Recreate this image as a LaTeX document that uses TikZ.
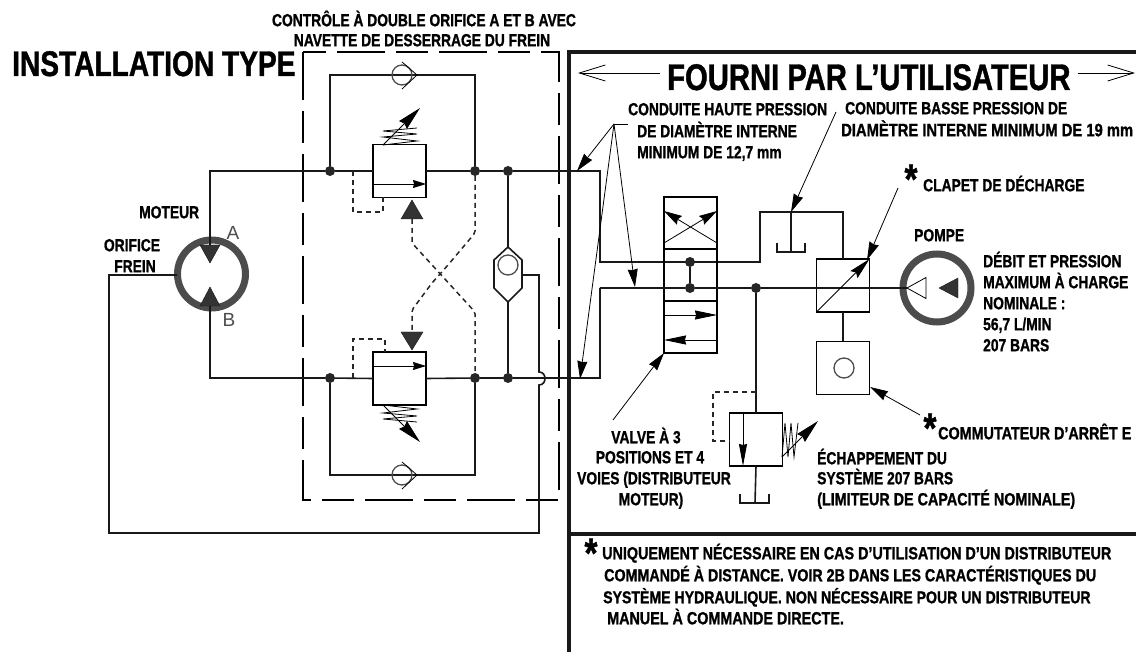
\documentclass[tikz,border=0pt]{standalone}
\usepackage{fontspec}
\usetikzlibrary{arrows.meta}
\newfontfamily\hdfont[FakeStretch=0.79,FakeBold=1.1]{Liberation Sans Bold}
\newfontfamily\hdwide[FakeStretch=0.82,FakeBold=1.1]{Liberation Sans Bold}
\newfontfamily\thinfont{Liberation Sans}
\definecolor{ringgray}{gray}{0.3}

\begin{document}
\begin{tikzpicture}[
    x=1pt,y=-1pt,
    pipe/.style={line width=1.6pt,black!90},
    pilot/.style={line width=1.5pt,black!85,dash pattern=on 5pt off 4pt},
    frame/.style={line width=1.5pt,dash pattern=on 48pt off 11pt on 32pt off 11pt},
    wall/.style={line width=3.4pt,black!90},
    vbox/.style={draw,line width=1.5pt,minimum width=53pt,minimum height=53pt,inner sep=0pt,outer sep=0pt},
    ring/.style={draw=ringgray,line width=7pt,circle,minimum size=68pt,inner sep=0pt,outer sep=0pt},
    dot/.style={circle,fill=black!85,minimum size=10pt,inner sep=0pt,outer sep=0pt},
    tri/.style={fill=black!80,draw=black!90,line width=0.4pt},
    thinline/.style={line width=0.8pt},
    flow/.style={line width=0.8pt,-{Stealth[length=13pt,width=8pt,inset=1pt]}},
    leader/.style={line width=0.8pt,-{Stealth[length=18pt,width=10pt,inset=1pt]}},
    springtip/.style={line width=0.8pt,-{Stealth[length=24pt,width=11pt,inset=2pt]}},
    roundv/.style={circle,draw=black!70,line width=1.3pt,minimum size=20pt,inner sep=0pt,outer sep=0pt},
    lbl/.style={font=\hdfont\fontsize{17.5}{17.5}\selectfont,inner sep=0pt,text height=12.5pt,text depth=0pt},
    wlbl/.style={font=\hdwide\fontsize{17.5}{17.5}\selectfont,inner sep=0pt,text height=12.5pt,text depth=0pt},
    bigl/.style={font=\hdfont\fontsize{37}{37}\selectfont,inner sep=0pt,text height=26pt,text depth=0pt},
    thinl/.style={font=\thinfont\fontsize{19}{19}\selectfont,text=black!70,inner sep=0pt},
    star/.style={font=\hdfont\fontsize{42}{42}\selectfont,inner sep=0pt},
  ]
  \useasboundingbox (0,0) rectangle (1136,652);

  % frames
  \draw[frame] (303,52) rectangle (559,500);
  \draw[wall] (1136,52) -- (569,52) -- (569,652);
  \draw[wall] (569,534) -- (1136,534);

  % motor
  \node[ring] (motor) at (211.5,274) {};
  \coordinate (portA) at (210,245);
  \coordinate (portB) at (210,306);
  \coordinate (brake) at (177,275);
  \draw[tri] (200,245) -- (220,245) -- (210,263) -- cycle;
  \draw[tri] (200,306) -- (220,306) -- (210,287) -- cycle;

  % upper line
  \node[dot] (dotA1) at (330,171) {};
  \node[dot] (dotA2) at (475,171) {};
  \node[dot] (dotA3) at (508,171) {};
  \node[vbox] (valveA) at (399.5,171) {};
  \coordinate (hiA) at (600,171);
  \coordinate (hiB) at (600,262);
  \coordinate (lowA) at (760,262);
  \coordinate (lowB) at (760,212);
  \coordinate (lowC) at (843,212);
  \node[vbox] (relief) at (843,285.5) {};
  \draw[pipe] (portA) |- (dotA1) -- (valveA.west);
  \draw[pipe] (valveA.east) -- (dotA2) -- (dotA3) -- (hiA) -- (hiB) -- (lowA) -- (lowB) -- (lowC) -- (relief.north);

  % lower line
  \node[dot] (dotB1) at (330,378) {};
  \node[dot] (dotB2) at (475,378) {};
  \node[dot] (dotB3) at (508,378) {};
  \node[vbox] (valveB) at (399.5,378.5) {};
  \coordinate (hiC) at (600,378);
  \coordinate (hiD) at (600,288);
  \draw[pipe] (portB) |- (dotB1) -- (valveB.west);
  \draw[pipe] (valveB.east) -- (dotB2) -- (dotB3) -- (hiC) -- (hiD);

  % check valves
  \coordinate (chkA) at (402,75);
  \coordinate (chkB) at (402,475);
  \draw[pipe] (dotA1) |- (chkA) -| (dotA2);
  \draw[pipe] (dotB1) |- (chkB) -| (dotB2);
  \node[roundv] (ballA) at (chkA) {};
  \node[roundv] (ballB) at (chkB) {};
  \draw[thinline] (402,62) -- (417,75) -- (402,89);
  \draw[thinline] (402,462) -- (417,475) -- (402,489);

  % arrows in the valves
  \draw[flow] (valveA.west |- 0,184) -- (valveA.east |- 0,184);
  \draw[flow] (valveB.west |- 0,366) -- (valveB.east |- 0,366);

  % springs
  \draw[thinline] (383,145) -- (417,141) -- (383,137) -- (417,134) -- (383,131) -- (417,128);
  \draw[springtip] (383,145) -- (420,108);
  \draw[thinline] (383,405) -- (417,409) -- (383,413) -- (417,416) -- (383,419) -- (417,422);
  \draw[springtip] (383,405) -- (420,442);

  % drains
  \draw[pilot] (353,171) -- (353,212) -- (383,212) -- (383,197);
  \draw[pilot] (353,378) -- (353,339) -- (385,339) -- (385,352);

  % pilots
  \coordinate (pilotA) at (412,219);
  \coordinate (pilotB) at (412,332);
  \draw[tri] (401,219) -- (423,219) -- (412,200) -- cycle;
  \draw[tri] (401,332) -- (423,332) -- (412,350) -- cycle;
  \draw[pilot,rounded corners=2pt] (pilotA) -- (412,243) -- (475,312) -- (dotB2);
  \draw[pilot,rounded corners=2pt] (dotA2) -- (475,233) -- (448,265) -- (432,283) -- (412,310) -- (pilotB);

  % shuttle
  \node[roundv] (ballS) at (508,265) {};
  \coordinate (shA) at (508,247);
  \coordinate (shB) at (508,302);
  \coordinate (shR) at (522,275);
  \draw[pipe] (shA) -- (494,260) -- (494,288) -- (shB) -- (522,288) -- (522,260) -- cycle;
  \draw[pipe] (dotA3) -- (shA);
  \draw[pipe] (shB) -- (dotB3);

  % brake line
  \coordinate (brkA) at (539,275);
  \coordinate (brkB) at (539,372);
  \coordinate (brkC) at (539,385);
  \coordinate (brkD) at (539,533);
  \coordinate (brkE) at (109,533);
  \coordinate (brkF) at (109,275);
  \draw[pipe] (shR) -- (brkA) -- (brkB) .. controls (547,372) and (547,385) .. (brkC) -- (brkD) -- (brkE) -- (brkF) -- (brake);

  % directional valve
  \node[vbox,minimum height=52pt] (dirA) at (690.5,223) {};
  \node[vbox,minimum height=52pt] (dirB) at (690.5,275) {};
  \node[vbox,minimum height=52pt] (dirC) at (690.5,327) {};
  \draw[flow,-{Stealth[length=18pt,width=10pt,inset=2pt]}] (664,243) -- (717,211);
  \draw[flow,-{Stealth[length=18pt,width=10pt,inset=2pt]}] (717,243) -- (664,211);
  \node[dot] (dotC1) at (690,262) {};
  \node[dot] (dotC2) at (690,288) {};
  \draw[pipe] (dotC1) -- (dotC2);
  \draw[flow,-{Stealth[length=22pt,width=9pt,inset=1pt]}] (664,315) -- (717,315);
  \draw[flow,-{Stealth[length=22pt,width=9pt,inset=1pt]}] (717,340) -- (664,340);

  % tank
  \coordinate (tankA) at (791,212);
  \coordinate (tankB) at (791,252);
  \draw[pipe] (tankA) -- (tankB);
  \draw[pipe] (777,243) -- (777,252) -- (805,252) -- (805,243);

  % supply and pump
  \node[ring] (pump) at (937,288) {};
  \node[dot] (dotD) at (756,288) {};
  \coordinate (pumpIn) at (907,288);
  \draw[pipe] (hiD) -- (dotC2) -- (dotD) -- (pumpIn);
  \draw[thinline,fill=white] (907,288) -- (926,277.5) -- (926,298.5) -- cycle;
  \draw[tri] (939,288) -- (958,278) -- (958,298) -- cycle;
  \draw[flow,-{Stealth[length=22pt,width=10pt,inset=3pt]}] (relief.south west) -- (relief.north east);

  % stop switch
  \node[vbox] (stopbox) at (843,368) {};
  \node[roundv] (stopball) at (844,368) {};
  \draw[pipe] (relief.south) -- (stopbox.north);

  % limiter
  \node[vbox] (limit) at (756,439.5) {};
  \coordinate (limA) at (756,392);
  \draw[pipe] (dotD) -- (limit.north);
  \draw[flow,-{Stealth[length=22pt,width=8pt,inset=1pt]}] (743,413) -- (743,466);
  \coordinate (limT) at (755,503);
  \draw[pipe] (limit.south) -- (limT);
  \draw[pipe] (740,494) -- (740,503) -- (769,503) -- (769,494);
  \draw[pilot] (limA) -- (713,392) -- (713,441) -- (730,441);
  \draw[thinline] (782,457) -- (785,423) -- (788,457) -- (791,423) -- (794,457) -- (798,423);
  \draw[springtip] (782,457) -- (818,421);

  % labels
  \node[bigl,font=\hdfont\fontsize{35.6}{35.6}\selectfont,anchor=west] (title) at (12,63) {INSTALLATION TYPE};
  \node[lbl] (ctrlA) at (424,20) {CONTRÔLE À DOUBLE ORIFICE A ET B AVEC};
  \node[lbl] (ctrlB) at (422,40) {NAVETTE DE DESSERRAGE DU FREIN};
  \node[lbl,anchor=west] (motorlbl) at (139,212) {MOTEUR};
  \node[lbl] (oriflbl) at (132,245) {ORIFICE};
  \node[lbl] (freinlbl) at (135,266) {FREIN};
  \node[thinl] (alabel) at (233,233) {A};
  \node[thinl] (blabel) at (229,320) {B};

  \node[bigl,anchor=west] (supplied) at (667,77) {FOURNI PAR L’UTILISATEUR};
  \coordinate (supL) at (578,73);
  \coordinate (supR) at (1135,73);
  \draw[thinline,-{Straight Barb[length=26pt,width=16pt]}] (supplied.west |- supL) ++(-7,0) -- (supL);
  \draw[thinline,-{Straight Barb[length=26pt,width=16pt]}] (supplied.east |- supR) ++(7,0) -- (supR);

  \node[lbl,anchor=west] (hiOne) at (628,109) {CONDUITE HAUTE PRESSION};
  \node[lbl,anchor=west] (hiTwo) at (637,131) {DE DIAMÈTRE INTERNE};
  \node[lbl,anchor=west] (hiThree) at (637,152) {MINIMUM DE 12,7 mm};
  \node[lbl,anchor=west] (loOne) at (845,108) {CONDUITE BASSE PRESSION DE};
  \node[wlbl,font=\hdwide\fontsize{18}{18}\selectfont,anchor=west] (loTwo) at (841,130) {DIAMÈTRE INTERNE MINIMUM DE 19 mm};

  \node[star] (starA) at (911,179) {*};
  \node[lbl,anchor=west] (clapet) at (923,185) {CLAPET DE DÉCHARGE};
  \node[lbl,anchor=west] (pompe) at (914,235) {POMPE};
  \node[lbl,anchor=west] (debit) at (983,261) {DÉBIT ET PRESSION};
  \node[lbl,anchor=west] (charge) at (983,282) {MAXIMUM À CHARGE};
  \node[lbl,anchor=west] (nominale) at (983,303) {NOMINALE :};
  \node[lbl,anchor=west] (flowlbl) at (983,324) {56,7 L/MIN};
  \node[lbl,anchor=west] (barlbl) at (983,345) {207 BARS};
  \node[star] (starB) at (930,428) {*};
  \node[wlbl,anchor=west] (commut) at (938,433) {COMMUTATEUR D’ARRÊT E};
  \node[lbl,anchor=west] (echap) at (817,458) {ÉCHAPPEMENT DU};
  \node[lbl,anchor=west] (syst) at (817,478) {SYSTÈME 207 BARS};
  \node[wlbl,anchor=west] (limlbl) at (817,499) {(LIMITEUR DE CAPACITÉ NOMINALE)};
  \node[lbl] (vOne) at (646,437) {VALVE À 3};
  \node[lbl] (vTwo) at (650,457) {POSITIONS ET 4};
  \node[lbl] (vThree) at (654,478) {VOIES (DISTRIBUTEUR};
  \node[lbl] (vFour) at (651,499) {MOTEUR)};

  \node[star] (starC) at (591,553) {*};
  \node[wlbl,anchor=west] (noteA) at (602,553) {UNIQUEMENT NÉCESSAIRE EN CAS D’UTILISATION D’UN DISTRIBUTEUR};
  \node[wlbl,font=\hdwide\fontsize{17.4}{17.4}\selectfont,anchor=west] (noteB) at (604,575) {COMMANDÉ À DISTANCE. VOIR 2B DANS LES CARACTÉRISTIQUES DU};
  \node[wlbl,font=\hdwide\fontsize{17.2}{17.2}\selectfont,anchor=west] (noteC) at (603,597) {SYSTÈME HYDRAULIQUE. NON NÉCESSAIRE POUR UN DISTRIBUTEUR};
  \node[wlbl,anchor=west] (noteD) at (607,618) {MANUEL À COMMANDE DIRECTE.};

  % leaders
  \coordinate (hub) at (614,124);
  \coordinate (hubR) at (628,124);
  \coordinate (tipA) at (577,171);
  \coordinate (tipB) at (635,287);
  \coordinate (tipC) at (580,379);
  \draw[thinline] (hub) -- (hubR);
  \draw[leader] (hub) -- (tipA);
  \draw[leader] (hub) -- (tipB);
  \draw[leader] (hub) -- (tipC);
  \coordinate (lowFrom) at (836,112);
  \draw[leader] (lowFrom) -- (tankA);
  \coordinate (clapFrom) at (898,188);
  \draw[leader] (clapFrom) -- (867,260);
  \coordinate (stopFrom) at (920,415);
  \draw[leader] (stopFrom) -- (870,387);
  \coordinate (valveFrom) at (613,420);
  \draw[leader] (valveFrom) -- (dirC.south west);
\end{tikzpicture}
\end{document}
